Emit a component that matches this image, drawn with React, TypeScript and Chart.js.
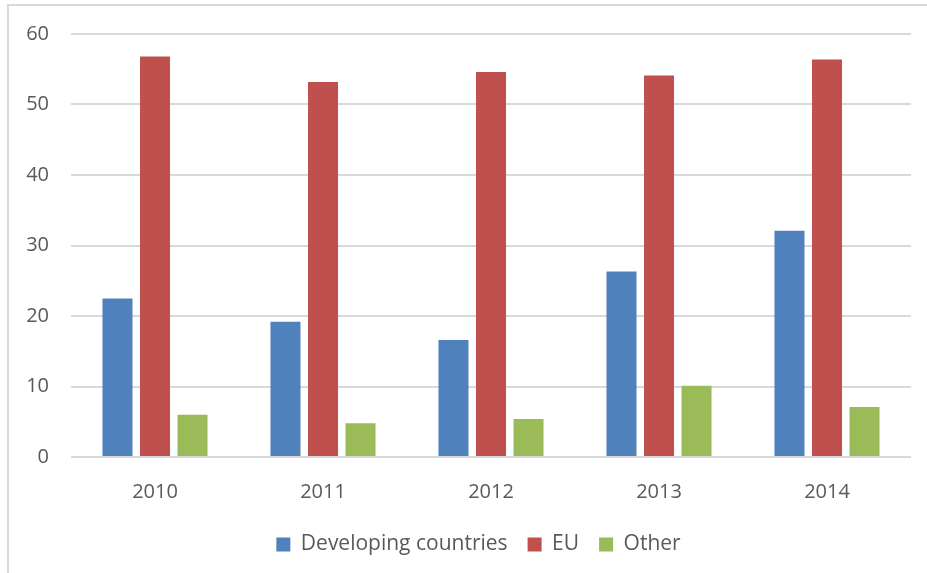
import React, { useEffect, useRef } from "react";
import { Chart, registerables } from "chart.js";

Chart.register(...registerables);

const categories = ["2010", "2011", "2012", "2013", "2014"];
const developing = [22.5, 19.2, 16.6, 26.3, 32.1];
const eu = [56.8, 53.2, 54.6, 54.1, 56.4];
const other = [6.0, 4.8, 5.4, 10.1, 7.1];
const seriesNames = ["Developing countries", "EU", "Other"];
const seriesColors = ["#4F81BD", "#C0504D", "#9BBB59"];

const FONT = "'Open Sans', 'Liberation Sans', sans-serif";
const TEXT = "#595959";

const legendShift = {
  id: "legendShift",
  afterLayout(chart: any) {
    if (chart.legend) {
      chart.legend.left += 46;
    }
  },
};

export default function App() {
  const ref = useRef<HTMLCanvasElement | null>(null);

  useEffect(() => {
    if (!ref.current) return;
    const values = [developing, eu, other];
    const chart = new Chart(ref.current, {
      type: "bar",
      data: {
        labels: categories,
        datasets: seriesNames.map((name, i) => ({
          label: name,
          data: values[i],
          backgroundColor: seriesColors[i],
          borderWidth: 0,
          categoryPercentage: 0.67,
          barPercentage: 0.8,
        })),
      },
      options: {
        responsive: false,
        animation: false,
        devicePixelRatio: 1,
        layout: { padding: { top: 34, right: 16, bottom: 8, left: 0 } },
        plugins: {
          tooltip: { enabled: false },
          legend: {
            position: "bottom",
            labels: {
              color: TEXT,
              font: { family: FONT, size: 21 },
              boxWidth: 14,
              boxHeight: 14,
              padding: 20,
            },
          },
        },
        scales: {
          x: {
            grid: { display: false, drawTicks: false },
            border: { display: false },
            ticks: { color: TEXT, font: { family: FONT, size: 20 }, padding: 23 },
            afterFit: (s: any) => {
              s.height = 57;
            },
          },
          y: {
            min: 0,
            max: 60,
            ticks: { stepSize: 10, color: TEXT, font: { family: FONT, size: 20 }, padding: 22 },
            grid: { color: "#D9D9D9", lineWidth: 2, drawTicks: false },
            border: { display: false },
            afterFit: (s: any) => {
              s.width = 71;
            },
          },
        },
      },
      plugins: [legendShift],
    });
    return () => chart.destroy();
  }, []);

  return (
    <div style={{ position: "absolute", left: 0, top: 0, width: 927, height: 573, overflow: "hidden", background: "#fff" }}>
      <div
        style={{
          position: "absolute",
          left: 7,
          top: 4,
          width: 940,
          height: 620,
          border: "2px solid #D9D9D9",
          boxSizing: "border-box",
        }}
      />
      <canvas ref={ref} width={927} height={573} style={{ position: "absolute", left: 0, top: 0 }} />
    </div>
  );
}
